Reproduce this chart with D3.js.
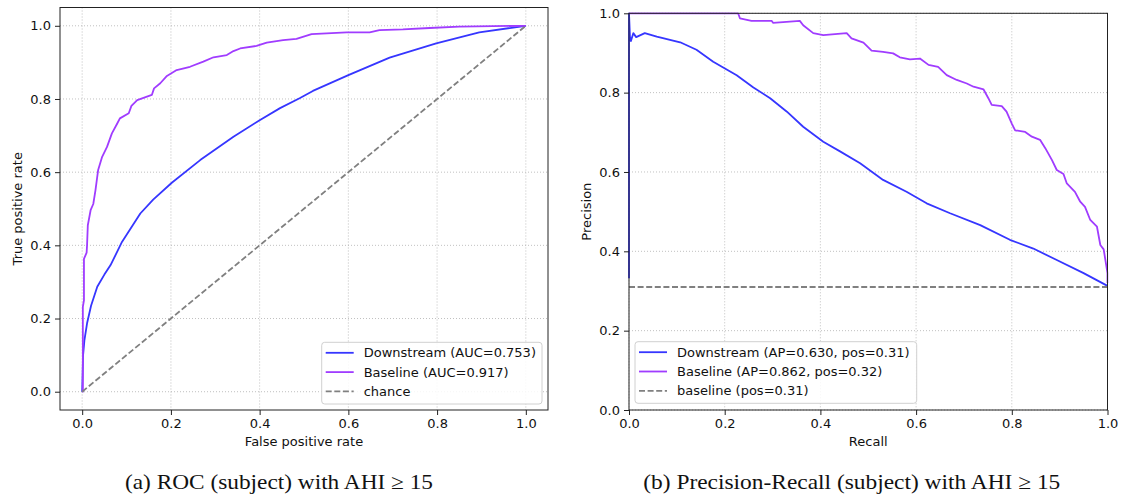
<!DOCTYPE html>
<html><head><meta charset="utf-8">
<script src="https://cdn.jsdelivr.net/npm/d3@7"></script>
<style>html,body{margin:0;padding:0;background:#fff;}svg{display:block;}</style>
</head><body>
<svg id="c" width="1126" height="497"></svg>
<script>
// ---------- DATA ----------
const ticks = [0, 0.2, 0.4, 0.6, 0.8, 1.0];

const rocDownFpr = [0,0.001,0.002,0.005,0.011,0.02,0.034,0.05,0.064,0.09,0.131,0.16,0.202,0.266,0.341,0.4,0.446,0.49,0.52,0.6,0.693,0.798,0.895,1];
const rocDownTpr = [0,0.05,0.1,0.14,0.187,0.235,0.287,0.32,0.346,0.41,0.487,0.525,0.571,0.633,0.697,0.742,0.775,0.802,0.822,0.865,0.913,0.952,0.982,1];

const rocBaseFpr = [0,0.0015,0.0015,0.004,0.004,0.01,0.011,0.0127,0.019,0.025,0.03,0.036,0.045,0.056,0.067,0.079,0.085,0.105,0.111,0.124,0.157,0.162,0.176,0.191,0.213,0.243,0.273,0.296,0.326,0.341,0.356,0.393,0.416,0.453,0.483,0.517,0.596,0.648,0.67,0.723,0.783,0.85,1];
const rocBaseTpr = [0,0,0.232,0.25,0.363,0.38,0.4,0.455,0.496,0.513,0.551,0.606,0.642,0.669,0.706,0.733,0.747,0.761,0.781,0.797,0.811,0.829,0.843,0.863,0.879,0.888,0.902,0.914,0.92,0.931,0.938,0.945,0.954,0.961,0.964,0.977,0.982,0.982,0.988,0.99,0.994,0.998,1];

const chanceX = [0, 1];
const chanceY = [0, 1];

const prDownRec = [0,0,0.002,0.004,0.009,0.015,0.033,0.058,0.107,0.141,0.176,0.225,0.26,0.295,0.33,0.364,0.406,0.441,0.483,0.531,0.58,0.622,0.671,0.734,0.796,0.845,0.894,0.95,1];
const prDownPrec = [0.332,1,0.941,0.93,0.95,0.94,0.95,0.941,0.927,0.908,0.878,0.844,0.813,0.786,0.752,0.714,0.676,0.652,0.622,0.58,0.55,0.521,0.496,0.466,0.429,0.407,0.378,0.345,0.313];

const prBaseRec = [0,0.228,0.232,0.256,0.298,0.301,0.357,0.364,0.385,0.406,0.455,0.465,0.49,0.507,0.531,0.552,0.566,0.587,0.608,0.626,0.646,0.664,0.685,0.706,0.72,0.741,0.751,0.758,0.779,0.789,0.8,0.807,0.828,0.842,0.859,0.87,0.884,0.894,0.908,0.915,0.932,0.943,0.953,0.964,0.978,0.985,0.992,1.0,1.0];
const prBasePrec = [1,1,0.987,0.981,0.981,0.976,0.981,0.97,0.95,0.945,0.95,0.937,0.926,0.906,0.903,0.899,0.889,0.884,0.886,0.87,0.865,0.844,0.832,0.823,0.815,0.808,0.786,0.769,0.766,0.752,0.722,0.705,0.701,0.689,0.681,0.66,0.63,0.605,0.595,0.571,0.55,0.525,0.512,0.479,0.462,0.416,0.405,0.345,0.32];

const posRate = 0.31;

const rocLegend = ["Downstream (AUC=0.753)", "Baseline (AUC=0.917)", "chance"];
const prLegend = ["Downstream (AP=0.630, pos=0.31)", "Baseline (AP=0.862, pos=0.32)", "baseline (pos=0.31)"];
const captions = ["(a) ROC (subject) with AHI \u2265 15", "(b) Precision-Recall (subject) with AHI \u2265 15"];
const axisLabels = {roc: ["False positive rate", "True positive rate"], pr: ["Recall", "Precision"]};

// ---------- STYLE ----------
const BLUE = "#3636ff", PURPLE = "#a03cff", GRAY = "#808080";
const FONT = "DejaVu Sans";
const LW = 1.8;
const svg = d3.select("#c");

function zip(a, b) { return a.map((v, i) => [v, b[i]]); }

function panel(opt) {
  const g = svg.append("g");
  const x = d3.scaleLinear().domain(opt.xd).range([opt.l, opt.r]);
  const y = d3.scaleLinear().domain(opt.yd).range([opt.b, opt.t]);
  const clipId = "clip" + opt.id;
  svg.append("clipPath").attr("id", clipId).append("rect")
    .attr("x", opt.l - 1).attr("y", opt.t - 1).attr("width", opt.r - opt.l + 2).attr("height", opt.b - opt.t + 2);

  // grid
  const grid = g.append("g").attr("stroke", "#b0b0b0").attr("stroke-width", 0.8).attr("stroke-dasharray", "1,2");
  ticks.forEach(t => {
    grid.append("line").attr("x1", x(t)).attr("x2", x(t)).attr("y1", opt.t).attr("y2", opt.b);
    grid.append("line").attr("y1", y(t)).attr("y2", y(t)).attr("x1", opt.l).attr("x2", opt.r);
  });

  // series
  const line = d3.line().x(d => x(d[0])).y(d => y(d[1]));
  const lg = g.append("g").attr("clip-path", `url(#${clipId})`).attr("fill", "none");
  opt.series.forEach(s => {
    lg.append("path").attr("d", line(s.data)).attr("stroke", s.color).attr("stroke-width", LW)
      .attr("stroke-dasharray", s.dash || null).attr("stroke-linejoin", "round");
  });

  // spines
  g.append("rect").attr("x", opt.l).attr("y", opt.t).attr("width", opt.r - opt.l).attr("height", opt.b - opt.t)
    .attr("fill", "none").attr("stroke", "#222").attr("stroke-width", 1);

  // axes
  const fmt = d3.format(".1f");
  const xa = g.append("g").attr("transform", `translate(0,${opt.b})`)
    .call(d3.axisBottom(x).tickValues(ticks).tickFormat(fmt).tickSize(5).tickPadding(4));
  const ya = g.append("g").attr("transform", `translate(${opt.l},0)`)
    .call(d3.axisLeft(y).tickValues(ticks).tickFormat(fmt).tickSize(5).tickPadding(4));
  [xa, ya].forEach(a => {
    a.select(".domain").remove();
    a.selectAll("line").attr("stroke", "#222");
    a.selectAll("text").attr("font-family", FONT).attr("font-size", 13).attr("fill", "#111");
  });

  // labels
  g.append("text").attr("x", (x(0) + x(1)) / 2).attr("y", 446).attr("text-anchor", "middle")
    .attr("font-family", FONT).attr("font-size", 13).attr("fill", "#111").text(opt.labels[0]);
  g.append("text").attr("transform", `translate(${opt.ylx},${(opt.t + opt.b) / 2}) rotate(-90)`)
    .attr("text-anchor", "middle").attr("font-family", FONT).attr("font-size", 13).attr("fill", "#111").text(opt.labels[1]);

  // legend
  const L = opt.legend;
  const lgd = g.append("g");
  lgd.append("rect").attr("x", L.x).attr("y", L.y).attr("width", L.w).attr("height", L.h).attr("rx", 3)
    .attr("fill", "rgba(255,255,255,0.85)").attr("stroke", "#d0d0d0").attr("stroke-width", 1);
  opt.series.forEach((s, i) => {
    const cy = L.y + 10.5 + i * 19.3;
    lgd.append("line").attr("x1", L.x + 4).attr("x2", L.x + 32).attr("y1", cy).attr("y2", cy)
      .attr("stroke", s.color).attr("stroke-width", LW).attr("stroke-dasharray", s.dash || null);
    lgd.append("text").attr("x", L.x + 42).attr("y", cy + 4.6).attr("font-family", FONT).attr("font-size", 13)
      .attr("fill", "#111").text(s.name);
  });
}

panel({
  id: "roc", l: 60, r: 548, t: 7.5, b: 410, xd: [-0.05, 1.05], yd: [-0.05, 1.05], ylx: 22,
  labels: axisLabels.roc,
  series: [
    {name: rocLegend[0], data: zip(rocDownFpr, rocDownTpr), color: BLUE},
    {name: rocLegend[1], data: zip(rocBaseFpr, rocBaseTpr), color: PURPLE},
    {name: rocLegend[2], data: zip(chanceX, chanceY), color: GRAY, dash: "6,2.6"}
  ],
  legend: {x: 321.7, y: 342.3, w: 220.3, h: 61.7}
});

panel({
  id: "pr", l: 629, r: 1107.5, t: 13.3, b: 410, xd: [0, 1], yd: [0, 1], ylx: 591,
  labels: axisLabels.pr,
  series: [
    {name: prLegend[0], data: zip(prDownRec, prDownPrec), color: BLUE},
    {name: prLegend[1], data: zip(prBaseRec, prBasePrec), color: PURPLE},
    {name: prLegend[2], data: [[0, posRate], [1, posRate]], color: GRAY, dash: "6,2.6"}
  ],
  legend: {x: 635, y: 341.7, w: 281.7, h: 61.6}
});

// captions
svg.append("text").attr("x", 125).attr("y", 489).attr("font-family", "Liberation Serif").attr("font-size", 21)
  .attr("textLength", 308).attr("lengthAdjust", "spacingAndGlyphs").attr("fill", "#111").text(captions[0]);
svg.append("text").attr("x", 643.3).attr("y", 489).attr("font-family", "Liberation Serif").attr("font-size", 21)
  .attr("textLength", 417).attr("lengthAdjust", "spacingAndGlyphs").attr("fill", "#111").text(captions[1]);
</script>
</body></html>
